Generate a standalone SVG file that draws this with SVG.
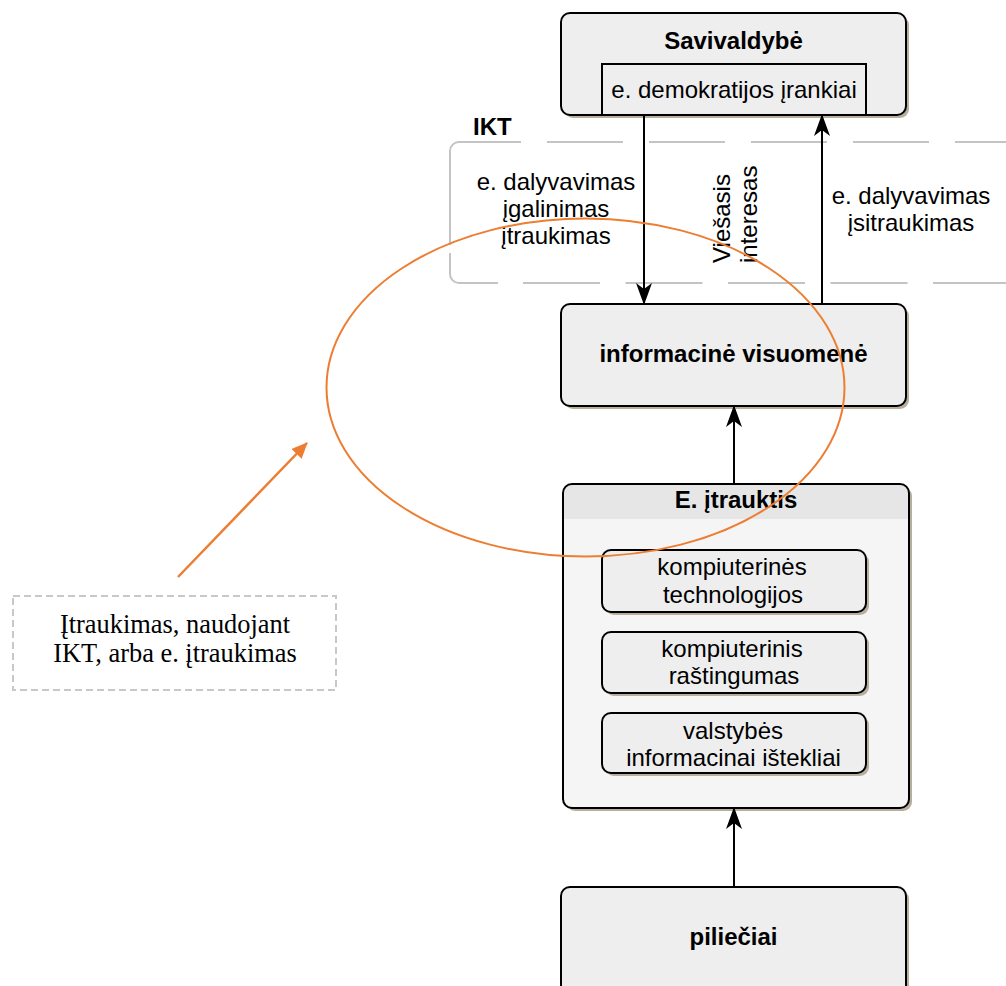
<svg xmlns="http://www.w3.org/2000/svg" width="1006" height="986" viewBox="0 0 1006 986">
  <style>
    .box { fill: #eeeeee; stroke: #000000; stroke-width: 2; }
    .shadow { fill: #b8ae9e; }
    .lbl { font-family: "Liberation Sans", Arial, sans-serif; font-size: 24px; fill: #000000; }
    .b { font-weight: bold; }
    .mid { text-anchor: middle; }
    .conn { stroke: #000000; stroke-width: 2; fill: none; }
    .serif { font-family: "Liberation Serif", "Times New Roman", serif; font-size: 26.4px; fill: #000000; text-anchor: middle; }
    .ikt { fill: none; stroke: #c4c4c4; stroke-width: 2; }
  </style>
  <defs>
    <marker id="arr" markerUnits="userSpaceOnUse" viewBox="0 0 22 16" refX="21" refY="8" markerWidth="22" markerHeight="16" orient="auto">
      <path d="M0,0 L22,8 L0,16 L6,8 Z" fill="#000000"/>
    </marker>
    <marker id="arrO" markerUnits="userSpaceOnUse" viewBox="0 0 16 14" refX="15" refY="7" markerWidth="16" markerHeight="14" orient="auto">
      <path d="M0,0 L16,7 L0,14 Z" fill="#ed7d31"/>
    </marker>
  </defs>

  <rect width="1006" height="986" fill="#ffffff"/>

  <g id="ikt">
    <path class="ikt" d="M450,151 A9,9 0 0 1 459,142 H1030" stroke-dasharray="76 26"/>
    <path class="ikt" d="M523,283 H1030" stroke-dasharray="77 25.5"/>
    <path class="ikt" d="M450,151 V245"/>
    <path class="ikt" d="M450,253 V274 A9,9 0 0 0 459,283 H498"/>
    <text class="lbl b" x="473" y="135">IKT</text>
  </g>

  <g id="savivaldybe">
    <rect class="shadow" x="564" y="16" width="345" height="102" rx="9"/>
    <rect class="box" x="561" y="13" width="345" height="102" rx="9"/>
    <text class="lbl b mid" x="733.5" y="49">Savivaldybė</text>
    <rect x="602" y="64" width="264" height="51" fill="#eeeeee" stroke="#000000" stroke-width="2"/>
    <text class="lbl mid" x="734" y="98">e. demokratijos įrankiai</text>
  </g>

  <g id="informacine">
    <rect class="shadow" x="564" y="307" width="345" height="102" rx="9"/>
    <rect class="box" x="561" y="304" width="345" height="102" rx="9"/>
    <text class="lbl b mid" x="733.5" y="362">informacinė visuomenė</text>
  </g>

  <g id="eitrauktis">
    <rect class="shadow" x="566" y="487" width="346" height="324" rx="9"/>
    <rect x="563" y="484" width="346" height="324" rx="9" fill="#f5f5f5"/>
    <path d="M563,519 L563,493 Q563,484 572,484 L900,484 Q909,484 909,493 L909,519 Z" fill="#e6e6e6"/>
    <rect x="563" y="484" width="346" height="324" rx="9" fill="none" stroke="#000000" stroke-width="2"/>
    <text class="lbl b mid" x="736" y="508">E. įtrauktis</text>
  </g>

  <g id="komptech">
    <rect class="shadow" x="605" y="553" width="264" height="62" rx="9"/>
    <rect class="box" x="602" y="550" width="264" height="62" rx="9"/>
    <text class="lbl mid" x="732" y="575">kompiuterinės</text>
    <text class="lbl mid" x="733" y="603">technologijos</text>
  </g>

  <g id="kompras">
    <rect class="shadow" x="605" y="635" width="264" height="61" rx="9"/>
    <rect class="box" x="602" y="632" width="264" height="61" rx="9"/>
    <text class="lbl mid" x="732" y="657">kompiuterinis</text>
    <text class="lbl mid" x="734" y="684">raštingumas</text>
  </g>

  <g id="valst">
    <rect class="shadow" x="605" y="716" width="264" height="60" rx="9"/>
    <rect class="box" x="602" y="713" width="264" height="60" rx="9"/>
    <text class="lbl mid" x="733" y="739">valstybės</text>
    <text class="lbl mid" x="733.5" y="766">informacinai ištekliai</text>
  </g>

  <g id="pilieciai">
    <rect class="shadow" x="564" y="890" width="345" height="110" rx="9"/>
    <rect class="box" x="561" y="887" width="345" height="110" rx="9"/>
    <text class="lbl b mid" x="733.5" y="945">piliečiai</text>
  </g>

  <g id="label-box">
    <rect x="13" y="596" width="323" height="94" fill="none" stroke="#c8c8c8" stroke-width="2" stroke-dasharray="7 4"/>
    <text class="serif" x="175" y="633">Įtraukimas, naudojant</text>
    <text class="serif" x="175" y="662">IKT, arba e. įtraukimas</text>
  </g>

  <g id="connectors">
    <line class="conn" x1="644" y1="115" x2="644" y2="304" marker-end="url(#arr)"/>
    <line class="conn" x1="822" y1="304" x2="822" y2="115" marker-end="url(#arr)"/>
    <line class="conn" x1="734" y1="484" x2="734" y2="406" marker-end="url(#arr)"/>
    <line class="conn" x1="734" y1="887" x2="734" y2="808" marker-end="url(#arr)"/>
    <text class="lbl mid" x="556" y="190">e. dalyvavimas</text>
    <text class="lbl mid" x="556" y="217">įgalinimas</text>
    <text class="lbl mid" x="556" y="244">įtraukimas</text>
    <text class="lbl mid" x="911" y="204">e. dalyvavimas</text>
    <text class="lbl mid" x="911" y="231">įsitraukimas</text>
    <text class="lbl" transform="translate(730,263) rotate(-90)">Viešasis</text>
    <text class="lbl" transform="translate(757,263) rotate(-90)">interesas</text>
    <line x1="178" y1="577" x2="307" y2="443" stroke="#ed7d31" stroke-width="2.5" marker-end="url(#arrO)"/>
  </g>

  <g id="ellipse">
    <ellipse cx="585.5" cy="387.5" rx="259" ry="169" fill="none" stroke="#ed7d31" stroke-width="2"/>
  </g>
</svg>
